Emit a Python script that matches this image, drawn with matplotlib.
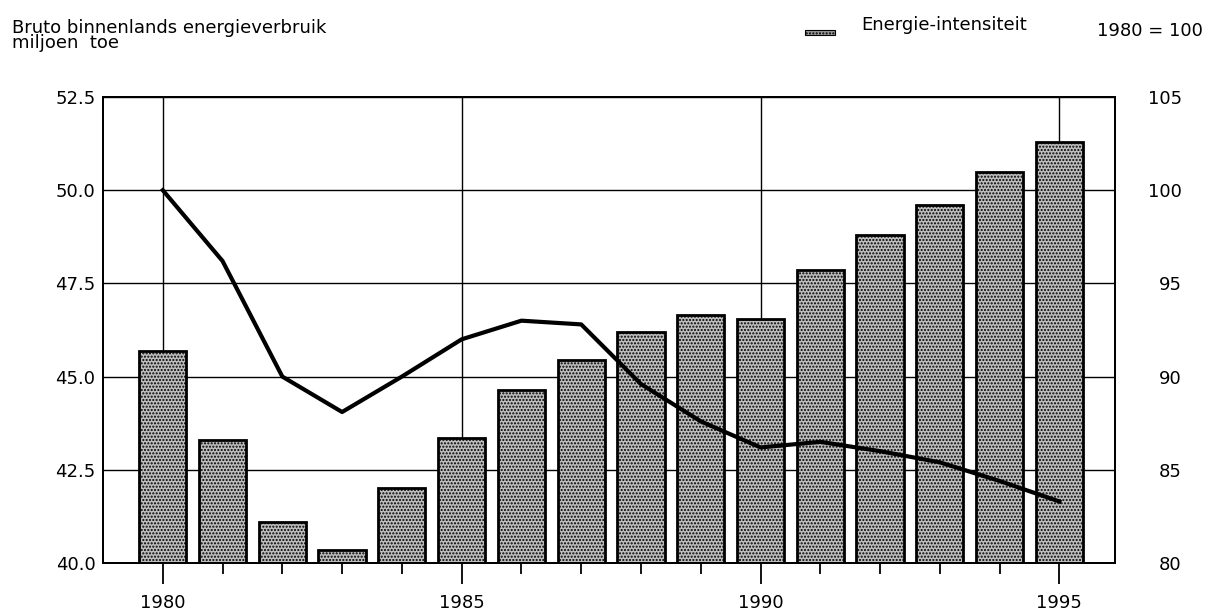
import matplotlib.pyplot as plt
from matplotlib.patches import Rectangle

years = list(range(1980, 1996))
# bruto binnenlands energieverbruik, miljoen toe
verbruik = [45.7, 43.3, 41.1, 40.35, 42.0, 43.35, 44.65, 45.45,
            46.2, 46.65, 46.55, 47.85, 48.8, 49.6, 50.5, 51.3]
# energie-intensiteit, 1980 = 100
intensiteit = [100.0, 96.2, 90.0, 88.1, 90.0, 92.0, 93.0, 92.8,
               89.6, 87.6, 86.2, 86.5, 86.0, 85.4, 84.4, 83.3]

left_ticks = [40.0, 42.5, 45.0, 47.5, 50.0, 52.5]
right_ticks = [80, 85, 90, 95, 100, 105]
label_years = [1980, 1985, 1990, 1995]


def main():
    plt.rcParams['font.family'] = ['DejaVu Sans']
    plt.rcParams['hatch.linewidth'] = 1.0
    plt.rcParams['hatch.color'] = '#333333'
    fs = 13

    fig = plt.figure(figsize=(12.09, 6.12), dpi=100)
    ax1 = fig.add_axes([103 / 1209, 1 - 563 / 612, 1012 / 1209, 466 / 612])

    ax1.bar(years, [v - 40 for v in verbruik], bottom=40, width=0.79,
            facecolor='#bdbdbd', edgecolor='black', linewidth=2.0,
            hatch='.....', zorder=2)
    ax1.set_xlim(1979.0, 1995.93)
    ax1.set_ylim(40, 52.5)
    ax1.set_yticks(left_ticks)
    ax1.set_yticklabels(['%.1f' % t for t in left_ticks], fontsize=fs)
    ax1.tick_params(axis='y', length=0, pad=5.5)

    # horizontal grid + 5-year vertical lines behind the bars
    ax1.grid(axis='y', color='black', linewidth=1.0, zorder=1)
    for y in label_years:
        ax1.axvline(y, color='black', linewidth=1.0, zorder=1)

    ax1.set_xticks(label_years)
    ax1.set_xticklabels([str(y) for y in label_years], fontsize=fs)
    ax1.set_xticks(years, minor=True)
    ax1.tick_params(axis='x', which='major', direction='out', length=15,
                    width=1.3, pad=7)
    ax1.tick_params(axis='x', which='minor', direction='out', length=8,
                    width=1.3)
    for s in ax1.spines.values():
        s.set_linewidth(1.4)

    ax2 = ax1.twinx()
    ax2.plot(years, intensiteit, color='black', linewidth=3.0, zorder=3)
    ax2.set_ylim(80, 105)
    ax2.set_yticks(right_ticks)
    ax2.set_yticklabels([str(t) for t in right_ticks], fontsize=fs, ha='right')
    ax2.tick_params(axis='y', length=0, pad=48)
    for s in ax2.spines.values():
        s.set_linewidth(1.4)

    fig.text(12 / 1209, 1 - 19 / 612, 'Bruto binnenlands energieverbruik\nmiljoen  toe',
             fontsize=fs, va='top', ha='left', linespacing=0.8)

    # legend
    fig.add_artist(Rectangle((805 / 1209, 1 - 35 / 612), 30 / 1209, 5 / 612,
                             transform=fig.transFigure, facecolor='#9a9a9a',
                             edgecolor='black', linewidth=0.8, hatch='.....'))
    fig.text(861 / 1209, 1 - 30 / 612, 'Energie-intensiteit', fontsize=fs,
             va='baseline', ha='left')
    fig.text(1203 / 1209, 1 - 36 / 612, '1980 = 100', fontsize=fs,
             va='baseline', ha='right')

    fig.savefig('out.png', dpi=100)


if __name__ == "__main__":
    main()
